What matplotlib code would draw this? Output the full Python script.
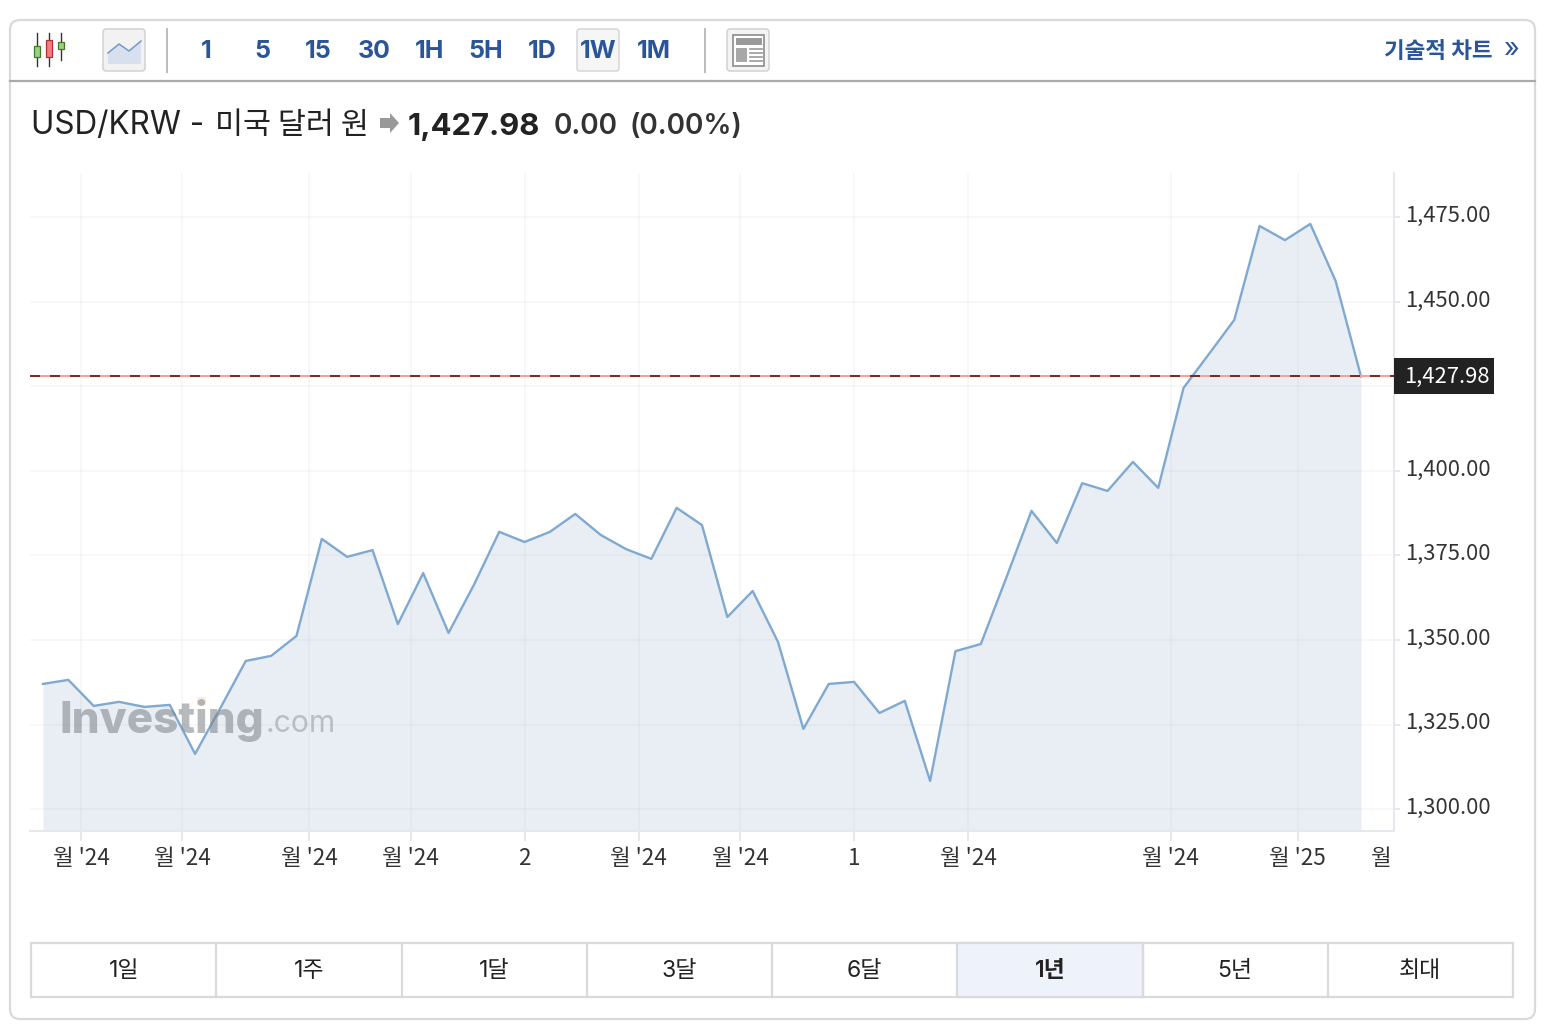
import matplotlib
matplotlib.use('Agg')
import matplotlib.pyplot as plt
from matplotlib.patches import FancyBboxPatch, Rectangle, Polygon
from matplotlib.transforms import ScaledTranslation

plt.rcParams['font.family'] = ['Inter', 'Noto Sans CJK KR', 'DejaVu Sans']
CJK = ['Noto Sans CJK KR', 'DejaVu Sans']

W, H = 1548, 1028

# weekly close, USD/KRW
prices = [1337.0, 1338.2, 1330.5, 1331.7, 1330.2, 1330.8, 1316.3, 1329.9, 1343.8, 1345.3,
          1351.2, 1379.9, 1374.6, 1376.6, 1354.7, 1369.8, 1352.1, 1366.3, 1382.0, 1379.0,
          1382.0, 1387.3, 1381.1, 1376.9, 1374.0, 1389.1, 1384.0, 1356.8, 1364.5, 1349.4,
          1323.7, 1337.0, 1337.6, 1328.4, 1332.0, 1308.3, 1346.7, 1348.8, 1368.3, 1388.2,
          1378.7, 1396.4, 1394.1, 1402.7, 1395.0, 1424.6, 1434.6, 1444.7, 1472.5, 1468.3,
          1473.1, 1456.2, 1427.98]
last_price = 1427.98
y_ticks = [1300, 1325, 1350, 1375, 1400, 1450, 1475]
y_grid = [1300, 1325, 1350, 1375, 1400, 1425, 1450, 1475]
x_ticks = [1.5, 5.5, 10.5, 14.5, 19, 23.5, 27.5, 32, 36.5, 44.5, 49.5, 52.8]
x_labels = ["월 '24", "월 '24", "월 '24", "월 '24", "2", "월 '24", "월 '24", "1", "월 '24",
            "월 '24", "월 '25", "월"]
intervals = ['1', '5', '15', '30', '1H', '5H', '1D', '1W', '1M']
interval_x = [206, 262, 318, 374, 430, 486, 542, 598, 654]
ranges = ['1일', '1주', '1달', '3달', '6달', '1년', '5년', '최대']

BLUE = '#2a5599'
BORDER = '#d9dadb'
AXIS = '#e5e8ed'
TEXT = '#333333'


def px(pt):
    return pt * 0.72


fig = plt.figure(figsize=(W / 100, H / 100), dpi=100, facecolor='white')

# page overlay in pixel coordinates, for the widget chrome
ui = fig.add_axes([0, 0, 1, 1], zorder=1)
ui.set_xlim(0, W)
ui.set_ylim(H, 0)
ui.axis('off')

ui.add_patch(FancyBboxPatch((10, 20), 1525, 999, boxstyle='round,pad=0,rounding_size=10',
                            fc='white', ec=BORDER, lw=1.6))
ui.plot([10, 1535], [81, 81], color='#aaaaaa', lw=1.6)
for x in [167, 705]:
    ui.plot([x, x], [29, 72], color='#bbbbbb', lw=1.4)

# candlestick icon
for x, y0, y1, top, bot, fc, ec in [(37, 33, 66, 46, 57, '#9ecf7f', '#3f7a2a'),
                                    (49, 33, 66, 40, 57, '#f08080', '#b03030'),
                                    (61, 33, 60, 42, 49, '#9ecf7f', '#3f7a2a')]:
    ui.plot([x, x], [y0, y1], color='#333333', lw=1)
    ui.add_patch(Rectangle((x - 3, top), 6, bot - top, fc=fc, ec=ec, lw=0.9, zorder=3))

# line chart button
ui.add_patch(FancyBboxPatch((103, 29), 42, 42, boxstyle='round,pad=0,rounding_size=3',
                            fc='#f2f2f2', ec='#d4d4d4', lw=1.2))
ui.add_patch(Polygon([(108, 53), (119, 44), (129, 51), (141, 41), (141, 64), (108, 64)],
                     fc='#d8e0ef', ec='none'))
ui.plot([108, 119, 129, 141], [53, 44, 51, 41], color='#6f9bc8', lw=1.1)

# selected interval
ui.add_patch(FancyBboxPatch((577, 29), 42, 42, boxstyle='round,pad=0,rounding_size=3',
                            fc='#f6f6f6', ec='#d9d9d9', lw=1.2))
for label, x in zip(intervals, interval_x):
    ui.text(x, 52, label, color=BLUE, fontsize=px(25), fontweight='bold', ha='center', va='center')

# news icon
ui.add_patch(FancyBboxPatch((727, 29), 42, 42, boxstyle='round,pad=0,rounding_size=3',
                            fc='#f4f4f4', ec='#d4d4d4', lw=1.2))
ui.add_patch(Rectangle((733, 35), 31, 31, fc='white', ec='#8c8c8c', lw=1.2))
ui.add_patch(Rectangle((736, 38), 26, 7, fc='#9a9a9a', ec='none'))
ui.add_patch(Rectangle((736, 48), 11, 14, fc='#a8a8a8', ec='none'))
for y in [49, 53, 57, 61]:
    ui.plot([750, 762], [y, y], color='#9a9a9a', lw=1.2)

ui.text(1493, 52, '기술적 차트', color=BLUE, fontsize=px(22.5), fontweight='bold', ha='right', va='center')
ui.text(1512, 50, '»', color=BLUE, fontsize=px(27), ha='center', va='center')

# title row
ui.text(31, 126, 'USD/KRW -', color='#222222', fontsize=px(31.5), ha='left', va='center')
ui.text(215, 125, '미국 달러 원', color='#222222', fontsize=px(30.5), family=CJK, ha='left', va='center')
ui.add_patch(Polygon([(380, 118), (390, 118), (390, 113), (399, 123), (390, 133), (390, 128), (380, 128)],
                     fc='#999999', ec='none'))
ui.text(408, 127, '1,427.98', color='#222222', fontsize=px(31), fontweight='bold', ha='left', va='center')
ui.text(554, 126, '0.00', color='#333333', fontsize=px(28), fontweight='semibold', ha='left', va='center')
ui.text(630, 126, '(0.00%)', color='#333333', fontsize=px(28), fontweight='semibold', ha='left', va='center')

# range buttons
ui.add_patch(Rectangle((31, 943), 1482, 54, fc='white', ec=BORDER, lw=1.6))
step = 1482 / len(ranges)
for i, label in enumerate(ranges):
    x0 = 31 + i * step
    if label == '1년':
        ui.add_patch(Rectangle((x0, 943), step, 54, fc='#eef2fa', ec=BORDER, lw=1.6))
    elif i > 0:
        ui.plot([x0, x0], [943, 997], color=BORDER, lw=1.6)
    ui.text(x0 + step / 2, 971, label, color='#222222', fontsize=px(23),
            fontweight='semibold' if label == '1년' else 'normal', ha='center', va='center')

# chart, placed by pixels: x 30..1394, y 173..831
ax = fig.add_axes([30 / W, 1 - 831 / H, 1364 / W, 658 / H], zorder=2)
ax.patch.set_alpha(0)
x_per_week = (1361 - 43) / 52
ax.set_xlim((30 - 43) / x_per_week, (1394 - 43) / x_per_week)
y_per_unit = 3.38
ax.set_ylim(1475 - (831 - 217.5) / y_per_unit, 1475 - (173 - 217.5) / y_per_unit)

weeks = list(range(len(prices)))
ax.fill_between(weeks, prices, ax.get_ylim()[0], color='#e9eef5', lw=0, zorder=1)
ax.plot(weeks, prices, color='#7fa9d1', lw=1.7, zorder=3)

for v in y_grid:
    ax.axhline(v, color='#8a8f9a', alpha=0.06, lw=1.4, zorder=2)
for v in x_ticks[:-1]:
    ax.axvline(v, color='#8a8f9a', alpha=0.06, lw=1.4, zorder=2)

ax.axhline(last_price, color='#f9a09a', lw=1.44, zorder=4)
ax.axhline(last_price, color='#7a2a2a', lw=1.44, dashes=(5, 5), zorder=5)

for side in ['top', 'left']:
    ax.spines[side].set_visible(False)
for side in ['right', 'bottom']:
    ax.spines[side].set_color(AXIS)
    ax.spines[side].set_linewidth(1.5)

ax.yaxis.tick_right()
ax.set_yticks(y_ticks)
ax.set_yticklabels([f'{v:,.2f}' for v in y_ticks], fontsize=px(22), color=TEXT, family=CJK)
ax.set_xticks(x_ticks)
ax.set_xticklabels(x_labels, fontsize=px(22.5), color=TEXT, family=CJK)
ax.tick_params(axis='y', length=4.3, width=1.4, color=AXIS, pad=4)
ax.tick_params(axis='x', length=7.2, width=1.4, color=AXIS, pad=4)
ax.xaxis.get_major_ticks()[-1].tick1line.set_visible(False)

# y labels sit a little above their gridlines
nudge = ScaledTranslation(0, 4 / 100, fig.dpi_scale_trans)
for lab in ax.get_yticklabels():
    lab.set_transform(lab.get_transform() + nudge)

# current price tag
ax.annotate(f'{last_price:,.2f}', xy=(1, last_price), xycoords=('axes fraction', 'data'),
            xytext=(38, -0.5), textcoords='offset points', fontsize=px(22), color='white',
            family=CJK, ha='center', va='center', annotation_clip=False, zorder=6)
ax.add_patch(Rectangle((1, last_price - 18 / y_per_unit), 100 / 1364, 36 / y_per_unit,
                       transform=ax.get_yaxis_transform(), fc='#222222', ec='none',
                       clip_on=False, zorder=5))

# watermark
ui2 = fig.add_axes([0, 0, 1, 1], zorder=3)
ui2.set_xlim(0, W)
ui2.set_ylim(H, 0)
ui2.axis('off')
ui2.add_patch(Rectangle((197, 697), 9, 8, fc='#fbe3c8', alpha=0.6, ec='none'))
ui2.text(60, 720, 'Investing', color='#7d8287', alpha=0.55, fontsize=px(44), fontweight='heavy',
         ha='left', va='center')
ui2.text(266, 724, '.com', color='#8a8f94', alpha=0.5, fontsize=px(30), ha='left', va='center')

fig.savefig('out.png', dpi=100)
